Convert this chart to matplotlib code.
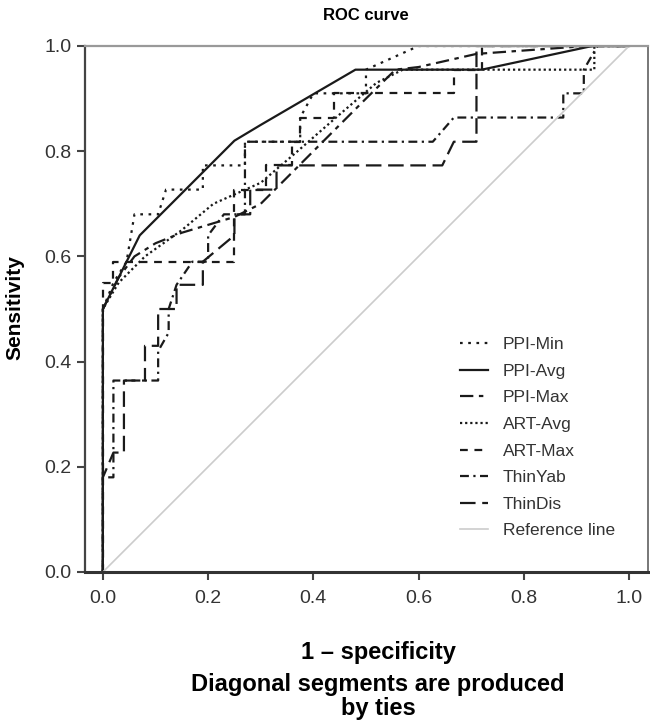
import matplotlib
matplotlib.use("Agg")
import matplotlib.pyplot as plt

plt.rcParams['font.family'] = ['Liberation Sans', 'DejaVu Sans']

# curve points (1 - specificity, sensitivity)
ppi_min_x = [0, 0, 0.02, 0.045, 0.06, 0.105, 0.12, 0.19, 0.19, 0.27, 0.27, 0.375, 0.375, 0.40, 0.50, 0.50, 0.60, 1.0]
ppi_min_y = [0, 0.50, 0.55, 0.59, 0.68, 0.68, 0.727, 0.727, 0.773, 0.773, 0.818, 0.818, 0.864, 0.91, 0.91, 0.955, 1.0, 1.0]

ppi_avg_x = [0, 0, 0.045, 0.07, 0.25, 0.30, 0.48, 0.72, 0.93, 1.0]
ppi_avg_y = [0, 0.50, 0.59, 0.64, 0.82, 0.85, 0.955, 0.955, 1.0, 1.0]

ppi_max_x = [0, 0, 0.03, 0.06, 0.10, 0.15, 0.20, 0.25, 0.30, 0.40, 0.50, 0.556, 0.60, 0.71, 0.92, 1.0]
ppi_max_y = [0, 0.50, 0.56, 0.60, 0.625, 0.645, 0.66, 0.675, 0.70, 0.80, 0.90, 0.955, 0.96, 0.985, 1.0, 1.0]

art_avg_x = [0, 0, 0.03, 0.08, 0.15, 0.21, 0.30, 0.37, 0.45, 0.52, 0.57, 0.934, 0.934, 1.0]
art_avg_y = [0, 0.50, 0.55, 0.60, 0.65, 0.70, 0.74, 0.80, 0.87, 0.93, 0.955, 0.955, 1.0, 1.0]

art_max_x = [0, 0, 0.02, 0.02, 0.25, 0.25, 0.31, 0.31, 0.36, 0.36, 0.375, 0.375, 0.44, 0.44, 0.667, 0.667, 0.72, 0.72, 1.0]
art_max_y = [0, 0.55, 0.55, 0.59, 0.59, 0.727, 0.727, 0.773, 0.773, 0.818, 0.818, 0.864, 0.864, 0.91, 0.91, 0.955, 0.955, 1.0, 1.0]

thin_yab_x = [0, 0, 0.02, 0.02, 0.105, 0.105, 0.125, 0.125, 0.14, 0.17, 0.20, 0.20, 0.23, 0.27, 0.27, 0.627, 0.667, 0.875, 0.875, 0.914, 0.914, 0.94, 1.0]
thin_yab_y = [0, 0.18, 0.18, 0.364, 0.364, 0.42, 0.455, 0.50, 0.546, 0.59, 0.59, 0.64, 0.68, 0.68, 0.818, 0.818, 0.864, 0.864, 0.91, 0.91, 0.955, 1.0, 1.0]

thin_dis_x = [0, 0, 0.02, 0.04, 0.04, 0.08, 0.08, 0.105, 0.105, 0.14, 0.14, 0.19, 0.19, 0.25, 0.25, 0.28, 0.28, 0.33, 0.33, 0.645, 0.667, 0.71, 0.71, 1.0]
thin_dis_y = [0, 0.18, 0.227, 0.227, 0.364, 0.364, 0.43, 0.43, 0.50, 0.50, 0.546, 0.546, 0.59, 0.64, 0.68, 0.68, 0.727, 0.727, 0.773, 0.773, 0.818, 0.818, 1.0, 1.0]

ref_x = [0, 1]
ref_y = [0, 1]

fig = plt.figure(figsize=(6.5, 7.22), dpi=100)
ax = fig.add_axes([85/650, 1 - 572/722, (648 - 85)/650, (572 - 46)/722])

ink = '#1a1a1a'
ax.plot(ppi_min_x, ppi_min_y, color=ink, lw=1.6, ls=(0, (1.2, 2.5)), label='PPI-Min')
ax.plot(ppi_avg_x, ppi_avg_y, color=ink, lw=1.6, ls='-', label='PPI-Avg')
ax.plot(ppi_max_x, ppi_max_y, color=ink, lw=1.6, ls=(0, (6, 2.5, 2, 2.5)), label='PPI-Max')
ax.plot(art_avg_x, art_avg_y, color=ink, lw=1.6, ls=(0, (1, 1.3)), label='ART-Avg')
ax.plot(art_max_x, art_max_y, color=ink, lw=1.6, ls=(0, (3.5, 3)), label='ART-Max')
ax.plot(thin_yab_x, thin_yab_y, color=ink, lw=1.6, ls=(0, (4, 2, 1, 2)), label='ThinYab')
ax.plot(thin_dis_x, thin_dis_y, color=ink, lw=1.6, ls=(0, (7, 3)), label='ThinDis')
ax.plot(ref_x, ref_y, color='#cccccc', lw=1.2, label='Reference line')

ax.set_xlim(-0.034, 1.036)
ax.set_ylim(0, 1)
ax.set_xticks([0, 0.2, 0.4, 0.6, 0.8, 1.0])
ax.set_yticks([0, 0.2, 0.4, 0.6, 0.8, 1.0])
ax.set_xticklabels(['0.0', '0.2', '0.4', '0.6', '0.8', '1.0'])
ax.set_yticklabels(['0.0', '0.2', '0.4', '0.6', '0.8', '1.0'])
ax.tick_params(axis='both', direction='out', length=6, width=1.5, color='#444444',
               labelsize=14, labelcolor='#333333')
ax.tick_params(axis='x', pad=7)

ax.spines['left'].set_color('#444444')
ax.spines['left'].set_linewidth(1.6)
ax.spines['bottom'].set_color('#333333')
ax.spines['bottom'].set_linewidth(2.2)
ax.spines['top'].set_color('#999999')
ax.spines['top'].set_linewidth(1.6)
ax.spines['right'].set_color('#777777')
ax.spines['right'].set_linewidth(1.4)

fig.legend(loc='upper left', bbox_to_anchor=(460/650, 1 - 337/722), frameon=False,
           fontsize=12.5, handlelength=1.6, handletextpad=0.85, labelspacing=0.66,
           borderpad=0, borderaxespad=0, labelcolor='#333333')

fig.text(366/650, 1 - 16/722, 'ROC curve', ha='center', va='center', fontsize=12, fontweight='bold')
fig.text(15/650, 1 - 308/722, 'Sensitivity', ha='center', va='center', rotation=90,
         fontsize=15, fontweight='bold')
fig.text(378/650, 1 - 653/722, '1 – specificity', ha='center', va='center', fontsize=17, fontweight='bold')
fig.text(378/650, 1 - 685/722, 'Diagonal segments are produced', ha='center', va='center',
         fontsize=17, fontweight='bold')
fig.text(378/650, 1 - 709/722, 'by ties', ha='center', va='center', fontsize=17, fontweight='bold')

fig.savefig('out.png', dpi=100)
